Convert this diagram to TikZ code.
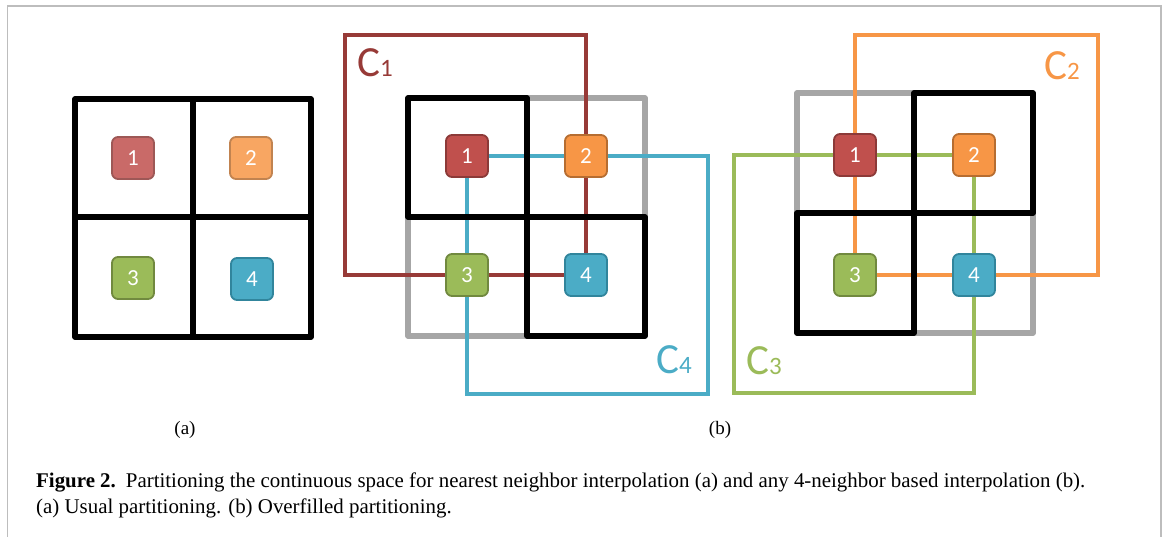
\documentclass[tikz,border=0pt]{standalone}
\usepackage{fontspec}
\setmainfont{Liberation Serif}
\newfontfamily\calib{Carlito}
\usepackage{tikz}

\definecolor{pxred}{HTML}{C0504D}
\definecolor{pxredd}{HTML}{8C3A38}
\definecolor{pxorange}{HTML}{F79646}
\definecolor{pxoranged}{HTML}{B66D31}
\definecolor{pxgreen}{HTML}{9BBB59}
\definecolor{pxgreend}{HTML}{71893F}
\definecolor{pxcyan}{HTML}{4BACC6}
\definecolor{pxcyand}{HTML}{31859C}
\definecolor{cred}{HTML}{973A37}
\definecolor{cellgray}{HTML}{A6A6A6}
\definecolor{framegray}{HTML}{BDBDBD}

\tikzset{
	pixel/.style={draw, line width=1.8pt, rounded corners=6pt, minimum size=42pt, inner sep=0pt, text=white, font=\calib\fontsize{23}{23}\selectfont},
	cellbox/.style={draw=black, line width=5.5pt, line join=round},
	ghostbox/.style={draw=cellgray, line width=5.2pt, line join=round},
	cline/.style={line width=3.3pt},
	clabel/.style={anchor=base west, inner sep=0pt, font=\calib\fontsize{43}{43}\selectfont},
	sublabel/.style={inner sep=0pt, font=\fontsize{19}{19}\selectfont},
	captext/.style={anchor=base west, inner sep=0pt, font=\fontsize{20.9}{20.9}\selectfont},
}

\begin{document}
\begin{tikzpicture}[x=1pt,y=-1pt]
	\useasboundingbox (0,0) rectangle (1167,537);
	\draw[framegray, line width=1.3pt] (7.5,537) -- (7.5,6) -- (1161,6) -- (1161,537);

	\draw[cellbox] (75,99) rectangle (193,217);
	\draw[cellbox] (193,99) rectangle (311,217);
	\draw[cellbox] (75,217) rectangle (193,337);
	\draw[cellbox] (193,217) rectangle (311,337);
	\node[pixel, fill=pxred!85!white, draw=pxredd!85!white] (a1) at (133,158) {1};
	\node[pixel, fill=pxorange!85!white, draw=pxoranged!85!white] (a2) at (251,158) {2};
	\node[pixel, fill=pxgreen, draw=pxgreend] (a3) at (133,278) {3};
	\node[pixel, fill=pxcyan, draw=pxcyand] (a4) at (252,279) {4};
	\node[sublabel] (capa) at (185,430) {(a)};

	\node (b1) at (467,156) {};
	\node (b2) at (586,156) {};
	\node (b3) at (467,275) {};
	\node (b4) at (586,275) {};
	\coordinate (c1) at (345,35);
	\coordinate (c4) at (708,394);
	\draw[ghostbox] (527,98) rectangle (645,217);
	\draw[ghostbox] (408,217) rectangle (527,336);
	\draw[cline, cred] (c1) rectangle (b4.center);
	\draw[cline, pxcyan] (b1.center) rectangle (c4);
	\draw[cellbox] (408,98) rectangle (527,217);
	\draw[cellbox] (527,217) rectangle (645,336);
	\node[pixel, fill=pxred, draw=pxredd] at (b1) {1};
	\node[pixel, fill=pxorange, draw=pxoranged] at (b2) {2};
	\node[pixel, fill=pxgreen, draw=pxgreend] at (b3) {3};
	\node[pixel, fill=pxcyan, draw=pxcyand] at (b4) {4};
	\node[clabel, text=cred] (lc1) at (357,77) {C{\fontsize{25}{25}\selectfont 1}};
	\node[clabel, text=pxcyan] (lc4) at (656,373) {C{\fontsize{25}{25}\selectfont 4}};

	\node (r1) at (855,155) {};
	\node (r2) at (974,155) {};
	\node (r3) at (855,275) {};
	\node (r4) at (974,275) {};
	\coordinate (c2) at (1098,35);
	\coordinate (c3) at (734,393);
	\draw[ghostbox] (797,93) rectangle (914,213);
	\draw[ghostbox] (914,213) rectangle (1033,333);
	\draw[cline, pxorange] (r3.center) rectangle (c2);
	\draw[cline, pxgreen] (c3) rectangle (r2.center);
	\draw[cellbox] (914,93) rectangle (1033,213);
	\draw[cellbox] (797,213) rectangle (914,333);
	\node[pixel, fill=pxred, draw=pxredd] at (r1) {1};
	\node[pixel, fill=pxorange, draw=pxoranged] at (r2) {2};
	\node[pixel, fill=pxgreen, draw=pxgreend] at (r3) {3};
	\node[pixel, fill=pxcyan, draw=pxcyand] at (r4) {4};
	\node[clabel, text=pxorange] (lc2) at (1044,80) {C{\fontsize{25}{25}\selectfont 2}};
	\node[clabel, text=pxgreen] (lc3) at (746,374) {C{\fontsize{25}{25}\selectfont 3}};
	\node[sublabel] (capb) at (720,430) {(b)};

	\node[captext] (cap1) at (36,487) {\textbf{Figure 2.}\hspace{10pt}Partitioning the continuous space for nearest neighbor interpolation (a) and any 4-neighbor based interpolation (b).};
	\node[captext] (cap2) at (36,513) {(a) Usual partitioning. (b) Overfilled partitioning.};
\end{tikzpicture}
\end{document}
